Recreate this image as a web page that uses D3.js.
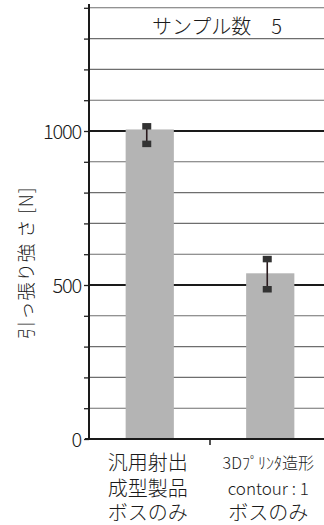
<!DOCTYPE html>
<html>
<head>
<meta charset="utf-8">
<script src="https://cdn.jsdelivr.net/npm/d3@7"></script>
<style>
  html, body { margin: 0; padding: 0; background: #fff; }
  svg { display: block; font-family: "Noto Sans CJK JP", "Noto Sans", sans-serif; font-weight: 300; }
</style>
</head>
<body>
<svg id="chart" width="324" height="525"></svg>
<script>
// Pull strength per sample type (N), with the min / max of the measurements
const categories = ["injection", "printed"];
const categoryLines = [
  [{ t: "汎用射出", s: 20 }, { t: "成型製品", s: 20 }, { t: "ボスのみ", s: 20 }],
  [{ t: "3Dﾌﾟﾘﾝﾀ造形", s: 16 }, { t: "contour : 1", s: 17 }, { t: "ボスのみ", s: 20 }]
];
const means = [1005, 538];
const errLow = [959, 487];
const errHigh = [1016, 585];
const yTicks = [0, 500, 1000];
const gridValues = d3.range(0, 1401, 100);
const yLabel = "引っ張り強 さ [N]";
const note = "サンプル数　5";

const svg = d3.select("#chart");

const x = d3.scaleBand()
  .domain(categories)
  .range([89.5, 330.5])
  .paddingInner(0.6)
  .paddingOuter(0.3);

const y = d3.scaleLinear()
  .domain([0, 1400])
  .range([439, 7.8]);

// horizontal grid lines; every 500 N drawn heavier
svg.append("g")
  .selectAll("line")
  .data(gridValues.filter(v => v > 0))
  .join("line")
  .attr("x1", 89)
  .attr("x2", 324)
  .attr("y1", d => y(d))
  .attr("y2", d => y(d))
  .attr("stroke", d => d % 500 === 0 ? "#1a1a1a" : "#6e6e6e")
  .attr("stroke-width", d => d % 500 === 0 ? 1.8 : 1.1);

// bars
svg.append("g")
  .selectAll("rect")
  .data(categories)
  .join("rect")
  .attr("x", d => x(d))
  .attr("width", x.bandwidth())
  .attr("y", (d, i) => y(means[i]))
  .attr("height", (d, i) => y(0) - y(means[i]))
  .attr("fill", "#b4b4b4");

// error bars (range of measurements)
const eb = svg.append("g");
categories.forEach((c, i) => {
  const cx = x(c) + x.bandwidth() / 2 - 3;
  eb.append("line")
    .attr("x1", cx).attr("x2", cx)
    .attr("y1", y(errHigh[i])).attr("y2", y(errLow[i]))
    .attr("stroke", "#2a1a1e").attr("stroke-width", 1.6);
  [errHigh[i], errLow[i]].forEach(v => {
    eb.append("rect")
      .attr("x", cx - 4.5).attr("y", y(v) - 3)
      .attr("width", 9).attr("height", 6.5)
      .attr("fill", "#333");
  });
});

// y axis: ticks every 100, labels at 0 / 500 / 1000
const yAxis = d3.axisLeft(y)
  .tickValues(gridValues)
  .tickSize(5)
  .tickFormat(d => yTicks.includes(d) ? d : "");
const gy = svg.append("g")
  .attr("transform", "translate(89,0)")
  .call(yAxis);
gy.select(".domain").remove();
gy.selectAll(".tick line").attr("stroke", "#222").attr("stroke-width", 1.3);
gy.selectAll(".tick text")
  .attr("x", -8)
  .attr("dy", "0.35em")
  .attr("fill", "#1a1a1a")
  .style("font-family", "'Noto Sans CJK JP', sans-serif")
  .style("font-weight", "300")
  .style("font-size", "20px")
  .style("letter-spacing", "-1.2px");
svg.append("line")
  .attr("x1", 89).attr("x2", 89)
  .attr("y1", 4).attr("y2", y(0) + 1)
  .attr("stroke", "#1a1a1a").attr("stroke-width", 2);

// x baseline and the divider tick between categories
const divider = x(categories[1]) - x.step() * x.paddingInner() / 2;
svg.append("line")
  .attr("x1", 85).attr("x2", 324)
  .attr("y1", y(0)).attr("y2", y(0))
  .attr("stroke", "#1a1a1a").attr("stroke-width", 2);
svg.append("line")
  .attr("x1", divider).attr("x2", divider)
  .attr("y1", y(0)).attr("y2", y(0) + 6)
  .attr("stroke", "#1a1a1a").attr("stroke-width", 1.5);

// category labels, three lines each
const lineY = [463, 489, 513];
categories.forEach((c, i) => {
  const cx = x(c) + x.bandwidth() / 2 - 2;
  categoryLines[i].forEach((ln, j) => {
    svg.append("text")
      .attr("x", cx)
      .attr("y", lineY[j])
      .attr("dy", "0.35em")
      .attr("text-anchor", "middle")
      .attr("fill", "#1a1a1a")
      .style("font-size", ln.s + "px")
      .text(ln.t);
  });
});

// y axis title
svg.append("text")
  .attr("transform", "translate(27,263) rotate(-90)")
  .attr("text-anchor", "middle")
  .attr("dy", "0.35em")
  .attr("fill", "#1a1a1a")
  .style("font-size", "18.5px")
  .style("letter-spacing", "0.8px")
  .style("white-space", "pre")
  .text(yLabel);

// sample count note
svg.append("text")
  .attr("x", 217)
  .attr("y", 27)
  .attr("dy", "0.35em")
  .attr("text-anchor", "middle")
  .attr("fill", "#1a1a1a")
  .style("font-size", "20px")
  .text(note);
</script>
</body>
</html>
